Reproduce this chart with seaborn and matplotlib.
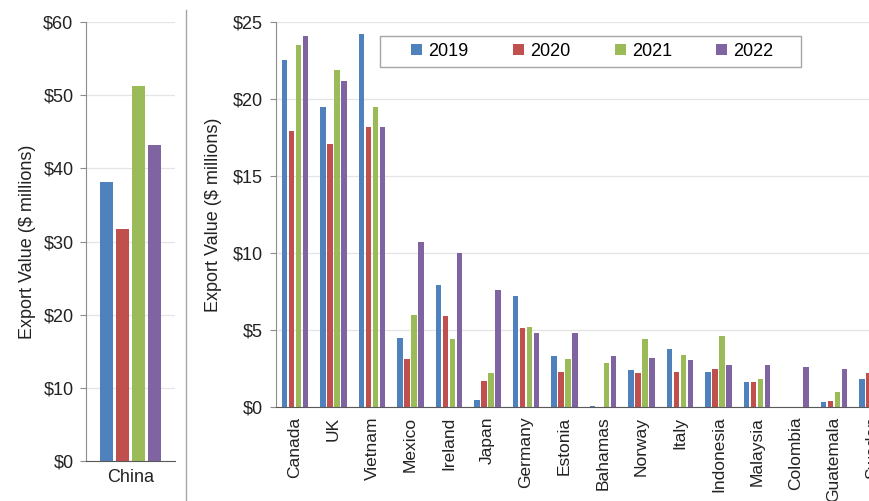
import pandas as pd
import matplotlib.pyplot as plt
import seaborn as sns
from matplotlib.lines import Line2D
from matplotlib.patches import Rectangle
from matplotlib.ticker import FuncFormatter

# --- data ---
years = ['2019', '2020', '2021', '2022']
colors = ['#4F81BD', '#C0504D', '#9BBB59', '#8064A2']

china = [38.2, 31.7, 51.2, 43.2]

countries = ['Canada', 'UK', 'Vietnam', 'Mexico', 'Ireland', 'Japan', 'Germany',
             'Estonia', 'Bahamas', 'Norway', 'Italy', 'Indonesia', 'Malaysia',
             'Colombia', 'Guatemala', 'Sweden']
v2019 = [22.5, 19.5, 24.2, 4.5, 7.9, 0.47, 7.2, 3.3, 0.08, 2.4, 3.75, 2.3, 1.6, 0.03, 0.35, 1.8]
v2020 = [17.9, 17.1, 18.2, 3.1, 5.9, 1.7, 5.1, 2.3, 0.03, 2.2, 2.3, 2.5, 1.6, 0.0, 0.42, 2.2]
v2021 = [23.5, 21.9, 19.5, 6.0, 4.4, 2.2, 5.2, 3.1, 2.85, 4.4, 3.4, 4.6, 1.85, 0.0, 0.96, None]
v2022 = [24.1, 21.2, 18.2, 10.7, 10.0, 7.6, 4.8, 4.8, 3.3, 3.2, 3.05, 2.75, 2.7, 2.6, 2.5, None]

df_china = pd.DataFrame({'country': 'China', 'year': years, 'value': china})
df_rest = pd.DataFrame({'country': countries, '2019': v2019, '2020': v2020,
                        '2021': v2021, '2022': v2022})
df_rest = df_rest.melt(id_vars='country', var_name='year', value_name='value')

plt.rcParams['font.family'] = ['Liberation Sans', 'DejaVu Sans']
money = FuncFormatter(lambda v, p: f'${v:.0f}')

fig = plt.figure(figsize=(8.7, 5.01), dpi=100)
ax1 = fig.add_axes([0.0989, 0.0798, 0.1023, 0.8762])
ax2 = fig.add_axes([0.317, 0.1876, 0.708, 0.7685])


def style_axis(ax, top, step):
    ax.set_ylim(0, top)
    ax.set_yticks(range(0, top + 1, step))
    ax.yaxis.set_major_formatter(money)
    ax.grid(axis='y', color='#e4e4e4', linewidth=0.9)
    ax.set_axisbelow(True)
    for s in ['top', 'right']:
        ax.spines[s].set_visible(False)
    ax.spines['left'].set_color('#8c8c8c')
    ax.spines['bottom'].set_color('#595959')
    ax.tick_params(axis='y', length=4, color='#8c8c8c', labelsize=13,
                   labelcolor='#222222', pad=5)
    ax.tick_params(axis='x', length=0, labelsize=12.5, labelcolor='#222222', pad=6)
    ax.set_xlabel('')
    ax.set_ylabel('Export Value ($ millions)', fontsize=13, color='#222222')


sns.barplot(data=df_china, x='country', y='value', hue='year', palette=colors,
            saturation=1, width=0.72, gap=0.22, ax=ax1, legend=False, errorbar=None)
style_axis(ax1, 60, 10)
ax1.tick_params(axis='x', labelsize=13)
ax1.yaxis.labelpad = 5

sns.barplot(data=df_rest, x='country', y='value', hue='year', palette=colors,
            saturation=1, width=0.74, gap=0.22, ax=ax2, errorbar=None)
style_axis(ax2, 25, 5)
ax2.yaxis.labelpad = 8
ax2.set_xlim(-0.5, len(countries) - 0.5)
ax2.tick_params(axis='x', labelrotation=90, pad=7)

# legend: entries centred inside a wide square-cornered box
handles, labels = ax2.get_legend_handles_labels()
ax2.legend_.remove()
fig.add_artist(Rectangle((0.437, 0.866), 0.484, 0.062, transform=fig.transFigure,
                         facecolor='white', edgecolor='#a6a6a6', linewidth=1, zorder=5))
leg = fig.legend(handles, labels, loc='center', ncol=4,
                 bbox_to_anchor=(0.681, 0.897), fontsize=13, frameon=False,
                 handlelength=0.6, handleheight=0.6, handletextpad=0.35,
                 columnspacing=2.45, borderaxespad=0)
leg.set_zorder(6)

# divider between the two panels
fig.add_artist(Line2D([0.2138, 0.2138], [0.0, 0.98], color='#a6a6a6', linewidth=1))

fig.savefig('out.png', dpi=100)
